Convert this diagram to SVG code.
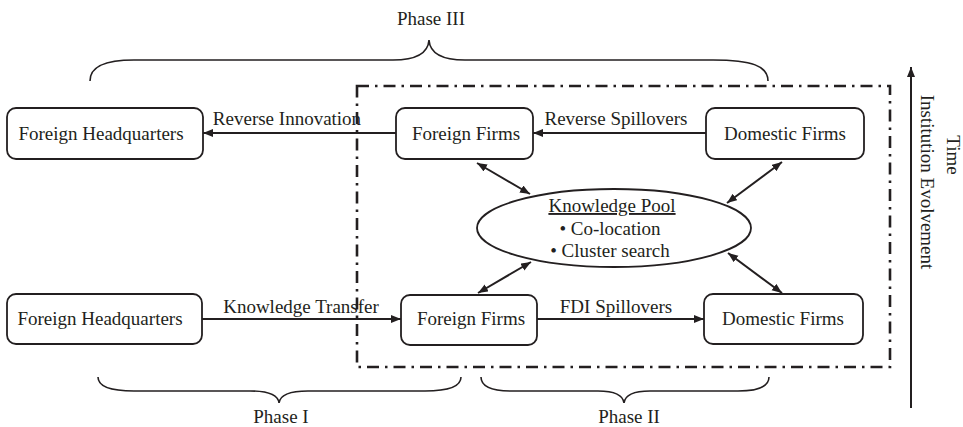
<svg xmlns="http://www.w3.org/2000/svg" width="963" height="427" viewBox="0 0 963 427">
<style>
  .box { fill: #ffffff; stroke: #231f20; stroke-width: 1.8; }
  .t { font-family: "Liberation Serif", "Times New Roman", serif; font-size: 19px; fill: #231f20; text-anchor: middle; }
  .ln { fill: none; stroke: #231f20; stroke-width: 2; }
  .brace { fill: none; stroke: #231f20; stroke-width: 1.6; }
  .frame { fill: none; stroke: #231f20; stroke-width: 2.6; stroke-dasharray: 12 6 2.5 6; }
</style>
<defs>
  <marker id="ah" markerUnits="userSpaceOnUse" markerWidth="12" markerHeight="10" refX="10" refY="4" orient="auto-start-reverse">
    <path d="M0,0 L10,4 L0,8 z" fill="#231f20"/>
  </marker>
</defs>
<rect x="0" y="0" width="963" height="427" fill="#ffffff"/>

<g id="frame">
  <rect class="frame" x="357" y="86" width="533" height="281"/>
</g>

<g id="braces">
  <path class="brace" d="M90,81 C90,66 106,60 134,60 L393,60 C416,60 428,54 429,40 C430,54 442,60 465,60 L713,60 C752,60 768,66 768,81"/>
  <path class="brace" d="M98,377 C98,386 110,391 134,391 L250,391 C268,391 278,395 279,403 C280,395 290,391 308,391 L425,391 C450,391 461,386 461,377"/>
  <path class="brace" d="M481,377 C481,386 492,391 512,391 L598,391 C614,391 623,395 624,403 C625,395 634,391 650,391 L738,391 C760,391 769,386 769,377"/>
  <text class="t" x="431" y="25">Phase III</text>
  <text class="t" x="281" y="423">Phase I</text>
  <text class="t" x="629" y="423">Phase II</text>
</g>

<g id="connectors">
  <line class="ln" x1="396" y1="133" x2="203" y2="133" marker-end="url(#ah)"/>
  <line class="ln" x1="706" y1="133" x2="533" y2="133" marker-end="url(#ah)"/>
  <line class="ln" x1="202" y1="319" x2="401" y2="319" marker-end="url(#ah)"/>
  <line class="ln" x1="537" y1="319" x2="704" y2="319" marker-end="url(#ah)"/>
  <line class="ln" x1="477" y1="163" x2="530" y2="194" marker-start="url(#ah)" marker-end="url(#ah)"/>
  <line class="ln" x1="782" y1="162" x2="727" y2="203" marker-start="url(#ah)" marker-end="url(#ah)"/>
  <line class="ln" x1="478" y1="293" x2="531" y2="262" marker-start="url(#ah)" marker-end="url(#ah)"/>
  <line class="ln" x1="728" y1="253" x2="782" y2="293" marker-start="url(#ah)" marker-end="url(#ah)"/>
  <line class="ln" x1="911" y1="408" x2="911" y2="67" marker-end="url(#ah)"/>
  <text class="t" x="287" y="125">Reverse Innovation</text>
  <text class="t" x="616" y="125">Reverse Spillovers</text>
  <text class="t" x="301" y="313">Knowledge Transfer</text>
  <text class="t" x="616" y="313">FDI Spillovers</text>
</g>

<g id="fhq-top">
  <rect class="box" x="7" y="108" width="196" height="51" rx="9"/>
  <text class="t" x="101" y="140">Foreign Headquarters</text>
</g>
<g id="ff-top">
  <rect class="box" x="396" y="108" width="137" height="51" rx="9"/>
  <text class="t" x="466" y="140">Foreign Firms</text>
</g>
<g id="df-top">
  <rect class="box" x="706" y="108" width="158" height="51" rx="9"/>
  <text class="t" x="785" y="140">Domestic Firms</text>
</g>
<g id="fhq-bottom">
  <rect class="box" x="7" y="294" width="195" height="50" rx="9"/>
  <text class="t" x="100" y="325">Foreign Headquarters</text>
</g>
<g id="ff-bottom">
  <rect class="box" x="401" y="295" width="136" height="50" rx="9"/>
  <text class="t" x="471" y="325">Foreign Firms</text>
</g>
<g id="df-bottom">
  <rect class="box" x="704" y="294" width="159" height="50" rx="9"/>
  <text class="t" x="783" y="325">Domestic Firms</text>
</g>

<g id="knowledge-pool">
  <ellipse class="box" cx="614" cy="228" rx="137" ry="39"/>
  <text class="t" x="612" y="212" text-decoration="underline">Knowledge Pool</text>
  <text class="t" x="610" y="235">• Co-location</text>
  <text class="t" x="610" y="257">• Cluster search</text>
</g>

<g id="time-axis">
  <text class="t" transform="translate(921,182) rotate(90)">Institution Evolvement</text>
  <text class="t" transform="translate(947,155) rotate(90)">Time</text>
</g>
</svg>
